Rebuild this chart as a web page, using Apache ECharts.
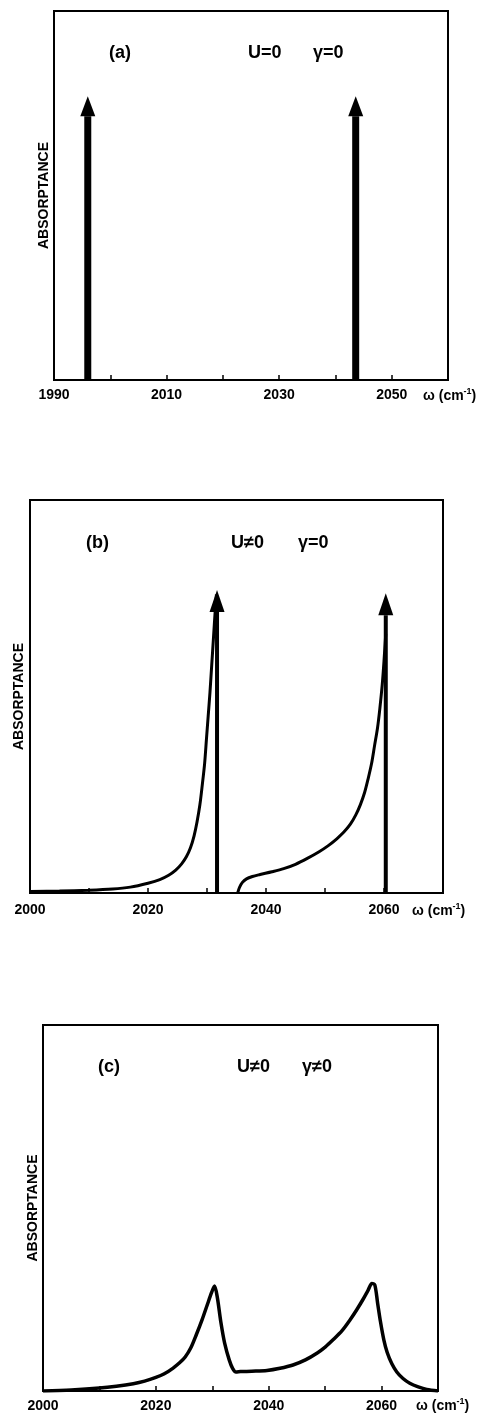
<!DOCTYPE html>
<html><head><meta charset="utf-8">
<script src="https://cdn.jsdelivr.net/npm/echarts@6/dist/echarts.min.js"></script>
<style>html,body{margin:0;padding:0;background:#fff}#c{width:479px;height:1414px}</style>
</head><body><div id="c"></div>
<script>
// ---- data ----
const ticksA = [1990, 2010, 2030, 2050];
const ticksB = [2000, 2020, 2040, 2060];
const ticksC = [2000, 2020, 2040, 2060];
// arrows: [frequency, height of arrow-head base]
const arrowsA = [[1996, 0.715], [2043.6, 0.715]];
const arrowsB = [[2031.7, 0.715], [2060.3, 0.707]];
const curveB1 = [[2000,0.004],[2005,0.005],[2010,0.007],[2014,0.010],[2017,0.015],[2020,0.025],[2022,0.034],[2023.5,0.045],[2024.7,0.058],[2025.7,0.074],[2026.5,0.092],[2027.2,0.115],[2027.8,0.145],[2028.3,0.18],[2028.8,0.225],[2029.2,0.275],[2029.6,0.33],[2029.9,0.39],[2030.2,0.45],[2030.5,0.51],[2030.8,0.58],[2031.1,0.65],[2031.4,0.72],[2031.6,0.76]];
const curveB2 = [[2035.2,0.0],[2035.5,0.014],[2036,0.027],[2036.7,0.036],[2037.7,0.042],[2039,0.047],[2041,0.054],[2043,0.062],[2045,0.073],[2047,0.088],[2049,0.105],[2050.5,0.12],[2052,0.138],[2053.2,0.155],[2054.3,0.175],[2055.2,0.198],[2056,0.225],[2056.7,0.255],[2057.3,0.29],[2057.9,0.33],[2058.4,0.375],[2058.9,0.42],[2059.3,0.47],[2059.7,0.53],[2060,0.59],[2060.3,0.66]];
const curveC = [[2000,0],[2005,0.003],[2010,0.008],[2013,0.013],[2016,0.02],[2018,0.027],[2020,0.037],[2021.5,0.047],[2023,0.062],[2024.2,0.077],[2025.2,0.093],[2026.2,0.118],[2027.2,0.155],[2028.2,0.195],[2029.1,0.235],[2029.9,0.27],[2030.4,0.287],[2030.9,0.255],[2031.5,0.19],[2032.2,0.13],[2033,0.085],[2033.6,0.062],[2034.2,0.052],[2035,0.053],[2037,0.054],[2039.7,0.056],[2042,0.062],[2044.3,0.071],[2046.5,0.085],[2048.6,0.104],[2050,0.12],[2051.4,0.14],[2053,0.165],[2054.4,0.194],[2055.6,0.222],[2056.7,0.25],[2057.6,0.275],[2058.3,0.294],[2058.8,0.29],[2059.3,0.24],[2059.8,0.19],[2060.4,0.14],[2061,0.105],[2061.8,0.075],[2062.7,0.052],[2063.8,0.034],[2065,0.021],[2066.5,0.011],[2068,0.004],[2070,0]];

const FONT = 'Liberation Sans';
const chart = echarts.init(document.getElementById('c'), null, {renderer: 'canvas'});

function xAx(gi, min, max, ticks, margin) {
  return {
    gridIndex: gi, type: 'value', min: min, max: max, interval: 10,
    axisLine: {show: true, lineStyle: {color: '#000', width: 2}},
    axisTick: {show: true, inside: true, length: 5, lineStyle: {color: '#000', width: 1.5}},
    axisLabel: {show: true, margin: margin, color: '#000', fontFamily: FONT, fontWeight: 'bold', fontSize: 14,
      showMinLabel: true, showMaxLabel: true,
      formatter: v => ticks.includes(v) ? String(v) : ''},
    splitLine: {show: false}
  };
}
function yAx(gi, gap) {
  return {
    gridIndex: gi, type: 'value', min: 0, max: 1,
    axisLine: {show: false}, axisTick: {show: false}, axisLabel: {show: false}, splitLine: {show: false},
    name: 'ABSORPTANCE', nameLocation: 'middle', nameGap: gap, nameRotate: 90,
    nameTextStyle: {color: '#000', fontFamily: FONT, fontWeight: 'bold', fontSize: 14}
  };
}
const gridBase = {show: true, borderColor: '#000', borderWidth: 2, backgroundColor: 'transparent'};

const series = [];
function arrowSeries(gi, arrows, shaftW, headSize) {
  arrows.forEach(a => {
    series.push({type: 'line', xAxisIndex: gi, yAxisIndex: gi, data: [[a[0], 0], [a[0], a[1]]],
      symbol: 'none', lineStyle: {color: '#000', width: shaftW}, silent: true, z: 3});
  });
  series.push({type: 'scatter', xAxisIndex: gi, yAxisIndex: gi, data: arrows.map(a => [a[0], a[1]]),
    symbol: 'triangle', symbolSize: headSize, symbolOffset: [0, '-50%'],
    itemStyle: {color: '#000', opacity: 1}, silent: true, z: 4});
}
function curve(gi, data, w) {
  series.push({type: 'line', xAxisIndex: gi, yAxisIndex: gi, data: data, symbol: 'none', smooth: 0.3,
    lineStyle: {color: '#000', width: w}, silent: true, z: 3});
}
arrowSeries(0, arrowsA, 7, [15, 20]);
curve(1, curveB1, 3);
curve(1, curveB2, 3);
arrowSeries(1, arrowsB, 4, [15, 22]);
curve(2, curveC, 3.5);

const tStyle = {fontFamily: FONT, fontWeight: 'bold', fontSize: 18, fill: '#000'};
function unit(x, y) {
  return {type: 'text', x: x, y: y, style: {
    text: '{a|ω (cm}{s|-1}{a|)}', textVerticalAlign: 'middle', fill: '#000',
    rich: {a: {fontFamily: FONT, fontWeight: 'bold', fontSize: 14, fill: '#000'},
           s: {fontFamily: FONT, fontWeight: 'bold', fontSize: 9, fill: '#000', verticalAlign: 'top', padding: [0,0,8,0]}}
  }};
}

chart.setOption({
  animation: false,
  backgroundColor: '#fff',
  grid: [
    Object.assign({left: 54, top: 11, width: 394, height: 369}, gridBase),
    Object.assign({left: 30, top: 500, width: 413, height: 393}, gridBase),
    Object.assign({left: 43, top: 1025, width: 395, height: 366}, gridBase)
  ],
  xAxis: [xAx(0, 1990, 2060, ticksA, 8), xAx(1, 2000, 2070, ticksB, 10), xAx(2, 2000, 2070, ticksC, 8)],
  yAxis: [yAx(0, 3), yAx(1, 4), yAx(2, 3)],
  series: series,
  graphic: [
    {type: 'text', x: 109, y: 53, style: Object.assign({text: '(a)', textVerticalAlign: 'middle'}, tStyle)},
    {type: 'text', x: 248, y: 53, style: Object.assign({text: 'U=0', textVerticalAlign: 'middle'}, tStyle)},
    {type: 'text', x: 313, y: 53, style: Object.assign({text: 'γ=0', textVerticalAlign: 'middle'}, tStyle)},
    {type: 'text', x: 86, y: 543, style: Object.assign({text: '(b)', textVerticalAlign: 'middle'}, tStyle)},
    {type: 'text', x: 231, y: 543, style: Object.assign({text: 'U≠0', textVerticalAlign: 'middle'}, tStyle)},
    {type: 'text', x: 298, y: 543, style: Object.assign({text: 'γ=0', textVerticalAlign: 'middle'}, tStyle)},
    {type: 'text', x: 98, y: 1067, style: Object.assign({text: '(c)', textVerticalAlign: 'middle'}, tStyle)},
    {type: 'text', x: 237, y: 1067, style: Object.assign({text: 'U≠0', textVerticalAlign: 'middle'}, tStyle)},
    {type: 'text', x: 302, y: 1067, style: Object.assign({text: 'γ≠0', textVerticalAlign: 'middle'}, tStyle)},
    unit(423, 396),
    unit(412, 911),
    unit(416, 1406)
  ]
});
</script></body></html>
